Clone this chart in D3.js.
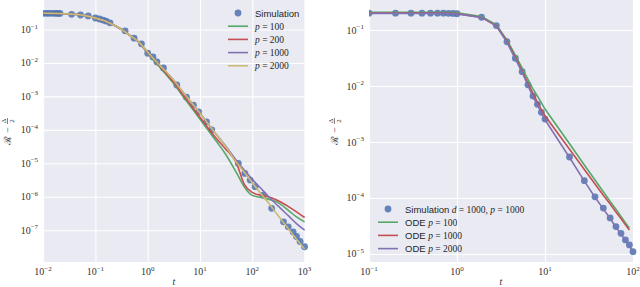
<!DOCTYPE html>
<html>
<head>
<meta charset="utf-8">
<script src="https://cdn.jsdelivr.net/npm/d3@7"></script>
<style>
  body { margin: 0; background: #fff; }
  svg { display: block; }
</style>
</head>
<body>
<svg id="chart" width="640" height="287"></svg>
<script>
// ---- left panel data ----
let tLeft = [0.01, 0.02, 0.035, 0.05, 0.07, 0.1, 0.15, 0.2, 0.3, 0.5, 0.7, 1, 1.5, 2, 3, 5, 7, 10, 20, 30, 50, 70, 100, 150, 200, 300, 500, 700, 1000]
let leftP100  = [0.305, 0.302, 0.288, 0.275, 0.251, 0.219, 0.182, 0.148, 0.105, 0.0603, 0.0398, 0.0191, 9.3e-3, 5.6e-3, 2.63e-3, 8.9e-4, 4.4e-4, 2.09e-4, 4.8e-5, 2.0e-5, 5.2e-6, 2.0e-6, 1.10e-6, 9.5e-7, 8.5e-7, 6.9e-7, 3.8e-7, 2.5e-7, 1.78e-7]
let leftP200  = [0.305, 0.302, 0.288, 0.275, 0.251, 0.219, 0.182, 0.148, 0.105, 0.0603, 0.0398, 0.0200, 0.0100, 6.0e-3, 2.88e-3, 1.0e-3, 5.0e-4, 2.40e-4, 5.8e-5, 2.82e-5, 1.0e-5, 2.4e-6, 1.35e-6, 1.10e-6, 1.0e-6, 7.9e-7, 5.0e-7, 3.55e-7, 2.4e-7]
let leftP1000 = [0.305, 0.302, 0.288, 0.275, 0.251, 0.219, 0.182, 0.148, 0.105, 0.0603, 0.0398, 0.0209, 0.0105, 6.6e-3, 3.31e-3, 1.20e-3, 6.3e-4, 3.16e-4, 7.6e-5, 3.55e-5, 1.20e-5, 6.3e-6, 3.31e-6, 1.70e-6, 1.05e-6, 5.6e-7, 2.63e-7, 1.58e-7, 1.0e-7]
let leftP2000 = [0.305, 0.302, 0.288, 0.275, 0.251, 0.219, 0.182, 0.148, 0.105, 0.0603, 0.0398, 0.0209, 0.0105, 6.6e-3, 3.31e-3, 1.20e-3, 6.3e-4, 3.16e-4, 7.6e-5, 3.39e-5, 1.05e-5, 5.5e-6, 2.63e-6, 1.17e-6, 6.8e-7, 2.95e-7, 1.05e-7, 5.4e-8, 2.75e-8]

let simLeftT = [0.010, 0.0115, 0.013, 0.015, 0.017, 0.019, 0.021, 0.035, 0.052, 0.073, 0.10, 0.12, 0.14, 0.16, 0.19, 0.37, 0.55, 0.76, 1.0, 1.26, 1.5, 2.0, 3.6, 5.5, 7.5, 9.4, 13.3, 16.8, 54, 72, 91, 113, 162, 235, 395, 487, 604, 700, 820, 1000]
let simLeftV = [0.305, 0.305, 0.305, 0.304, 0.304, 0.303, 0.302, 0.284, 0.271, 0.254, 0.221, 0.206, 0.192, 0.179, 0.158, 0.0912, 0.0550, 0.0372, 0.0195, 0.0151, 0.0107, 7.1e-3, 2.19e-3, 9.5e-4, 5.5e-4, 3.47e-4, 1.74e-4, 1.0e-4, 1.0e-5, 5.0e-6, 3.16e-6, 2.0e-6, 1.12e-6, 4.5e-7, 1.78e-7, 1.26e-7, 8.9e-8, 6.5e-8, 4.6e-8, 3.2e-8]

// ---- right panel data ----
let tRight = [0.1, 0.2, 0.3, 0.4, 0.5, 0.6, 0.7, 0.8, 0.9, 1.0, 1.9, 2.8, 3.7, 4.6, 5.5, 6.4, 7.3, 8.2, 9.1, 10, 19, 28, 37, 46, 55, 64, 73, 82, 91, 100]
let simRight  = [0.200, 0.200, 0.200, 0.200, 0.200, 0.200, 0.200, 0.199, 0.198, 0.195, 0.169, 0.120, 0.0617, 0.0313, 0.0180, 0.0105, 6.6e-3, 4.7e-3, 3.39e-3, 2.57e-3, 5.4e-4, 2.04e-4, 1.05e-4, 6.6e-5, 4.4e-5, 3.09e-5, 2.34e-5, 1.78e-5, 1.45e-5, 1.10e-5]
let odeP100   = [0.207, 0.207, 0.207, 0.207, 0.207, 0.207, 0.207, 0.206, 0.205, 0.204, 0.174, 0.123, 0.066, 0.0355, 0.0209, 0.0132, 8.9e-3, 6.6e-3, 5.0e-3, 3.89e-3, 9.3e-4, 3.89e-4, 2.09e-4, 1.29e-4, 8.7e-5, 6.3e-5, 4.7e-5, 3.63e-5, 2.88e-5]
let odeP1000  = [0.200, 0.200, 0.200, 0.200, 0.200, 0.200, 0.200, 0.199, 0.198, 0.196, 0.168, 0.120, 0.063, 0.0324, 0.0186, 0.0112, 7.4e-3, 5.1e-3, 3.8e-3, 2.95e-3, 7.4e-4, 3.24e-4, 1.78e-4, 1.12e-4, 7.8e-5, 5.6e-5, 4.3e-5, 3.31e-5, 2.69e-5]
let odeP2000  = [0.198, 0.198, 0.198, 0.198, 0.198, 0.198, 0.198, 0.197, 0.196, 0.194, 0.168, 0.118, 0.060, 0.0305, 0.0175, 0.0102, 6.4e-3, 4.6e-3, 3.3e-3, 2.5e-3, 5.3e-4, 2.0e-4, 1.03e-4, 6.4e-5, 4.3e-5, 3.0e-5, 2.28e-5, 1.74e-5, 1.40e-5, 1.08e-5]

let COLORS = { blue: "#4C72B0", green: "#55A868", red: "#C44E52", purple: "#8172B2", yellow: "#CCB974" }

let svg = d3.select("#chart")
svg.append("rect").attr("width", 640).attr("height", 287).attr("fill", "#fff")

let serif = "'Liberation Serif', 'DejaVu Serif', serif"
let sans = "'Liberation Sans', 'DejaVu Sans', sans-serif"

function powLabel(text, e){
    text.append("tspan").text("10")
    text.append("tspan").attr("dy", -4.5).attr("font-size", 7)
        .text(e < 0 ? "\u2212" + (-e) : "" + e)
}

function drawPanel(p){
    let g = svg.append("g")
    let x = d3.scaleLog().domain(p.xDomain).range(p.xRange)
    let y = d3.scaleLog().domain(p.yDomain).range([262, 0])

    g.append("rect")
        .attr("x", p.xRange[0]).attr("y", 0)
        .attr("width", p.xRange[1] - p.xRange[0]).attr("height", 262)
        .attr("fill", "#EAEAF2")

    // grid
    let xg = g.append("g").attr("transform", "translate(0,262)")
        .call(d3.axisBottom(x).tickValues(p.xTicks.map(e => Math.pow(10, e))).tickSize(-262).tickFormat(""))
    let yg = g.append("g").attr("transform", "translate(" + p.xRange[0] + ",0)")
        .call(d3.axisLeft(y).tickValues(p.yTicks.map(e => Math.pow(10, e))).tickSize(-(p.xRange[1] - p.xRange[0])).tickFormat(""))
    for(let a of [xg, yg]){
        a.select(".domain").remove()
        a.selectAll("line").attr("stroke", "#fff").attr("stroke-width", 1.1)
    }

    // tick labels
    for(let e of p.xTicks){
        let t = g.append("text").attr("x", x(Math.pow(10, e))).attr("y", 275)
            .attr("text-anchor", "middle").attr("font-family", serif).attr("font-size", 10).attr("fill", "#333")
        powLabel(t, e)
    }
    for(let e of p.yTicks){
        let t = g.append("text").attr("x", p.xRange[0] - 5).attr("y", y(Math.pow(10, e)) + 3.5)
            .attr("text-anchor", "end").attr("font-family", serif).attr("font-size", 10).attr("fill", "#333")
        powLabel(t, e)
    }

    // axis labels
    g.append("text").attr("x", (p.xRange[0] + p.xRange[1]) / 2).attr("y", 285)
        .attr("text-anchor", "middle").attr("font-family", serif).attr("font-style", "italic")
        .attr("font-size", 10).attr("fill", "#333").text("t")

    let yl = g.append("g").attr("transform", "translate(" + p.yLabelX + ",131) rotate(-90)")
        .attr("font-family", serif).attr("fill", "#333")
    yl.append("text").attr("x", -9).attr("y", 0).attr("text-anchor", "middle").attr("font-size", 10)
        .attr("font-family", "'DejaVu Serif', serif").text("\u211B")
    yl.append("text").attr("x", 1).attr("y", 0).attr("text-anchor", "middle").attr("font-size", 10).text("\u2212")
    yl.append("text").attr("x", 10).attr("y", -5).attr("text-anchor", "middle").attr("font-size", 7).text("\u0394")
    yl.append("line").attr("x1", 7).attr("x2", 13).attr("y1", -3.5).attr("y2", -3.5).attr("stroke", "#333").attr("stroke-width", 0.6)
    yl.append("text").attr("x", 10).attr("y", 2.5).attr("text-anchor", "middle").attr("font-size", 7).text("2")

    // clip
    let clipId = "clip" + p.id
    g.append("clipPath").attr("id", clipId).append("rect")
        .attr("x", p.xRange[0]).attr("y", 0)
        .attr("width", p.xRange[1] - p.xRange[0] + 4).attr("height", 262)
    let plot = g.append("g").attr("clip-path", "url(#" + clipId + ")")

    plot.selectAll("circle.sim").data(p.simT)
        .enter().append("circle")
        .attr("class", "sim")
        .attr("cx", (d, i) => x(d))
        .attr("cy", (d, i) => y(p.simV[i]))
        .attr("r", 3.4)
        .attr("fill", COLORS.blue)
        .attr("opacity", 0.85)

    for(let s of p.lines){
        let pts = s.values.map((v, i) => [s.t[i], v])
        plot.append("path")
            .attr("d", d3.line().x(d => x(d[0])).y(d => y(d[1])).curve(p.curve)(pts))
            .attr("fill", "none").attr("stroke", s.color).attr("stroke-width", 1.6)
    }

    // legend
    let lg = g.append("g").attr("font-size", 9.5).attr("fill", "#262626")
    let lx = p.legend.x, ly = p.legend.y
    lg.append("circle").attr("cx", lx + 10).attr("cy", ly).attr("r", 3.4).attr("fill", COLORS.blue).attr("opacity", 0.85)
    let st = lg.append("text").attr("x", lx + 27).attr("y", ly + 3.5).attr("font-family", sans)
    st.append("tspan").text("Simulation")
    if(p.legend.simExtra){
        st.append("tspan").attr("font-family", serif).attr("font-style", "italic").text(" d")
        st.append("tspan").attr("font-family", serif).text(" = 1000, ")
        st.append("tspan").attr("font-family", serif).attr("font-style", "italic").text("p")
        st.append("tspan").attr("font-family", serif).text(" = 1000")
    }
    p.lines.forEach((s, i) => {
        let yy = ly + 13.2 * (i + 1)
        lg.append("line").attr("x1", lx).attr("x2", lx + 20).attr("y1", yy).attr("y2", yy)
            .attr("stroke", s.color).attr("stroke-width", 1.6)
        let t = lg.append("text").attr("x", lx + 27).attr("y", yy + 3.5)
        if(p.legend.prefix) t.append("tspan").attr("font-family", sans).text(p.legend.prefix + " ")
        t.append("tspan").attr("font-family", serif).attr("font-style", "italic").text("p")
        t.append("tspan").attr("font-family", serif).text(" = " + s.label)
    })
}

drawPanel({
    id: "L",
    xDomain: [1e-2, 1e3], xRange: [43.1, 304.6],
    yDomain: [Math.pow(10, -7.95), Math.pow(10, -0.118)],
    xTicks: [-2, -1, 0, 1, 2, 3], yTicks: [-7, -6, -5, -4, -3, -2, -1],
    yLabelX: 11,
    curve: d3.curveMonotoneX,
    simT: simLeftT, simV: simLeftV,
    lines: [
        { t: tLeft, values: leftP100, color: COLORS.green, label: "100" },
        { t: tLeft, values: leftP200, color: COLORS.red, label: "200" },
        { t: tLeft, values: leftP1000, color: COLORS.purple, label: "1000" },
        { t: tLeft, values: leftP2000, color: COLORS.yellow, label: "2000" }
    ],
    legend: { x: 228, y: 13, prefix: null, simExtra: false }
})

drawPanel({
    id: "R",
    xDomain: [0.1, 100], xRange: [369, 633],
    yDomain: [Math.pow(10, -5.143), Math.pow(10, -0.464)],
    xTicks: [-1, 0, 1, 2], yTicks: [-5, -4, -3, -2, -1],
    yLabelX: 338,
    curve: d3.curveLinear,
    simT: tRight, simV: simRight,
    lines: [
        { t: tRight, values: odeP100, color: COLORS.green, label: "100" },
        { t: tRight, values: odeP1000, color: COLORS.red, label: "1000" },
        { t: tRight, values: odeP2000, color: COLORS.purple, label: "2000" }
    ],
    legend: { x: 378, y: 209, prefix: "ODE", simExtra: true }
})
</script>
</body>
</html>
